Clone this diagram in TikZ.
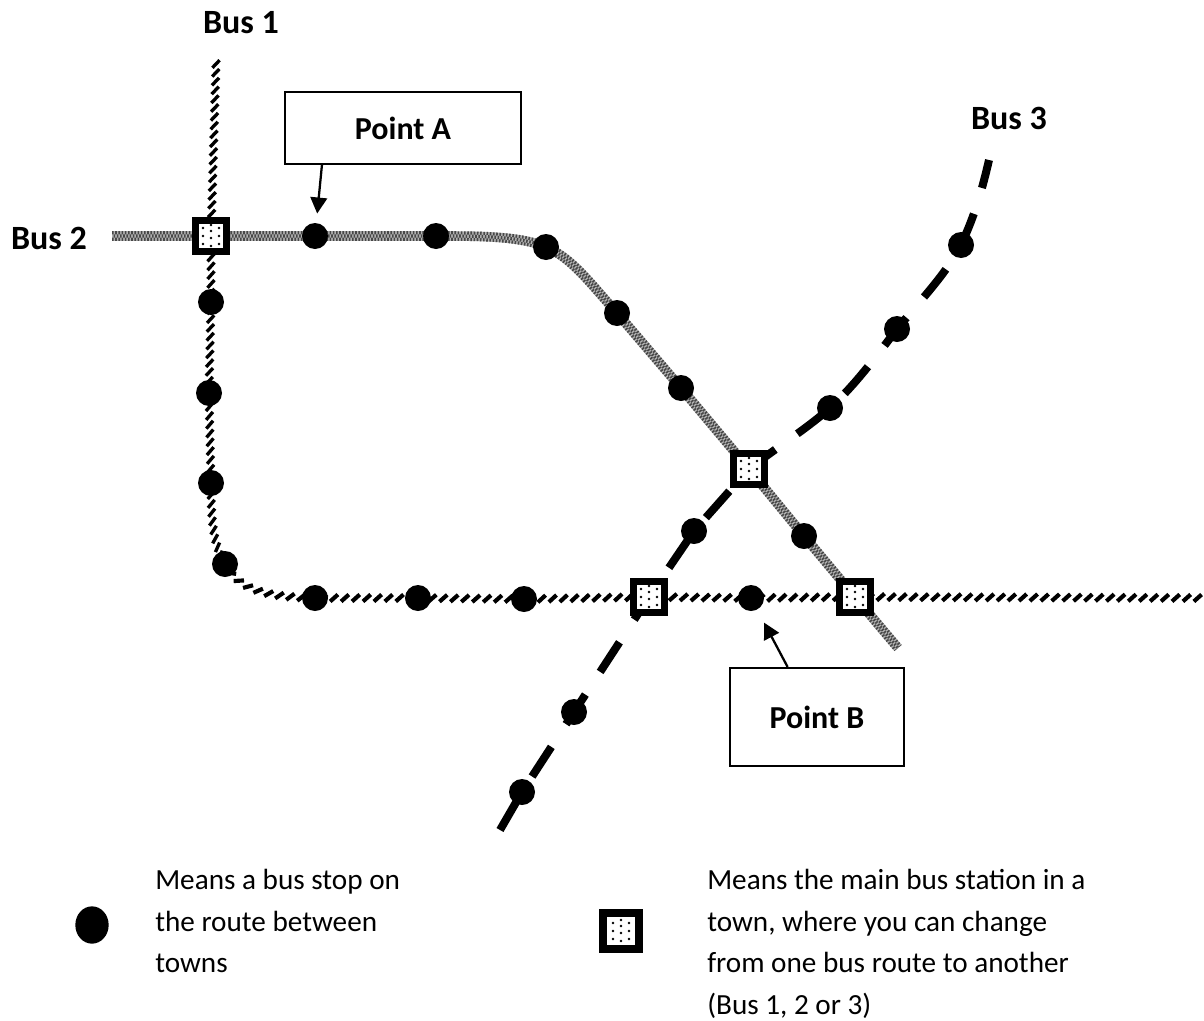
\documentclass[tikz,border=0pt]{standalone}
\usepackage{fontspec}
\setmainfont{Carlito}
\usetikzlibrary{backgrounds,decorations.markings,arrows.meta,shapes.geometric}
\newcommand{\pointfont}{\fontsize{24pt}{28pt}\selectfont}
\newcommand{\busfont}{\fontsize{25.5pt}{30pt}\selectfont}
\newcommand{\legfont}{\fontsize{21.9pt}{31.2pt}\selectfont}
\newcommand{\stationdots}{%
  \foreach \dx/\dy in {-8/-8,0/-10,8/-8,-8/0,0/-2,8/0,-8/8,0/5,8/8,0/11}{
    \fill[black] ([xshift=\dx*0.75pt,yshift=\dy*0.75pt]path picture bounding box.center) circle (1pt);}}
\tikzset{
  x=0.75pt,y=-0.75pt,
  stopdot/.style={circle,fill=black,draw=none,inner sep=0pt,minimum size=19.5pt},
  legstopdot/.style={ellipse,fill=black,draw=none,inner sep=0pt,minimum width=25pt,minimum height=28pt},
  station/.style={rectangle,draw=black,line width=5.2pt,fill=white,inner sep=0pt,minimum size=23.5pt,
    path picture={\stationdots}},
  callout/.style={draw=black,line width=1.6pt,fill=white,inner sep=0pt,font=\pointfont\bfseries},
  buslabel/.style={inner sep=0pt,font=\busfont\bfseries},
  legendtext/.style={inner sep=0pt,align=left,anchor=north west,font=\legfont},
  pointer/.style={draw=black,line width=1.7pt,-{Triangle[length=12pt,width=12.5pt]}},
  hatchline/.style 2 args={draw=white,line width=6.8pt,
    postaction={decorate,decoration={markings,
      mark=between positions 0 and 1 step #2 with {\draw[black,line width=#2*0.38] (-2.9pt*#1,-2.6pt) -- (2.9pt*#1,2.6pt);}}}},
  graybase/.style={draw=black!30,line width=7.2pt},
  grayover/.style={draw=black!72,line width=7.2pt,dash pattern=on 1.2pt off 1.2pt},
  graymid/.style={draw=black!30,line width=2.4pt},
  graymidover/.style={draw=black!72,line width=2.4pt,dash pattern=on 1.2pt off 1.2pt,dash phase=1.2pt},
  dashbus/.style={draw=black,line width=6pt,dash pattern=on 26.5pt off 20.3pt},
}
\begin{document}
\begin{tikzpicture}
\useasboundingbox (0,0) rectangle (1204,1021);
% free route ends
\coordinate (b1top) at (216,64);
\coordinate (b1end) at (1204,598);
\coordinate (b2start) at (112,236);
\coordinate (b2end) at (898,648);
\coordinate (b3start) at (500,830);
\coordinate (b3end) at (989,160);
% stations
\node[station] (st1) at (211,236) {};
\node[station] (st2) at (749,469) {};
\node[station] (st3) at (649,597) {};
\node[station] (st4) at (855,597) {};
% stops
\foreach \n/\p in {a1/{315,236},a2/{436,236},a3/{546,247},a4/{617,313},a5/{681,388},a6/{804,536},
  c1/{211,302},c2/{209,393},c3/{211,483},c4/{225,564},c5/{315,598},c6/{418,598},c7/{524,599},c8/{751,598},
  d1/{522,792},d2/{574,712},d3/{694,531},d4/{830,408},d5/{897,329},d6/{961,245}}
  {\node[stopdot] (\n) at (\p) {};}
% routes
\begin{pgfonlayer}{background}
\path[hatchline={-1}{6.6pt}] (b1top) -- (st1.center) -- (c1.center) -- (c2.center) -- (c3.center)
  .. controls (211,525) and (214,545) .. (c4.center);
\path[hatchline={1}{8.2pt}] (c4.center)
  .. controls (238,588) and (262,597) .. (c5.center)
  -- (c6.center) -- (c7.center) -- (st3.center) -- (c8.center) -- (st4.center) -- (b1end);
\foreach \sty in {graybase,grayover,graymid,graymidover}{
\path[\sty] (b2start) -- (st1.center) -- (a1.center) -- (a2.center)
  .. controls (480,236) and (520,236) .. (a3.center)
  .. controls (572,258) and (590,283) .. (a4.center)
  -- (a5.center) -- (st2.center) -- (a6.center) -- (st4.center) -- (b2end);}
\path[dashbus] (b3start) -- (d1.center) -- (d2.center) -- (st3.center) -- (d3.center) -- (st2.center)
  .. controls (780,445) and (805,430) .. (d4.center)
  .. controls (855,385) and (875,358) .. (d5.center)
  .. controls (925,295) and (945,275) .. (d6.center)
  .. controls (975,215) and (982,190) .. (b3end);
\end{pgfonlayer}
% callouts
\node[callout,minimum width=177pt,minimum height=54pt] (pa) at (403,128) {Point A};
\node[callout,minimum width=130.5pt,minimum height=73.5pt] (pb) at (817,717) {Point B};
\draw[pointer,shorten >=7pt] ([xshift=28.5pt]pa.south west) -- (a1);
\draw[pointer,shorten >=11pt] ([xshift=44pt]pb.north west) -- (c8);
% labels
\node[buslabel] (l1) at (241,23) {Bus 1};
\node[buslabel] (l2) at (49,238) {Bus 2};
\node[buslabel] (l3) at (1009,118) {Bus 3};
% legend
\node[legstopdot] (legstop) at (92,925) {};
\node[station,minimum size=27pt,line width=6.5pt] (legst) at (621,931) {};
\node[legendtext] (t1) at (155,869) {Means a bus stop on\\the route between\\towns};
\node[legendtext] (t2) at (707,869) {Means the main bus station in a\\town, where you can change\\from one bus route to another\\(Bus 1, 2 or 3)};
\end{tikzpicture}
\end{document}
